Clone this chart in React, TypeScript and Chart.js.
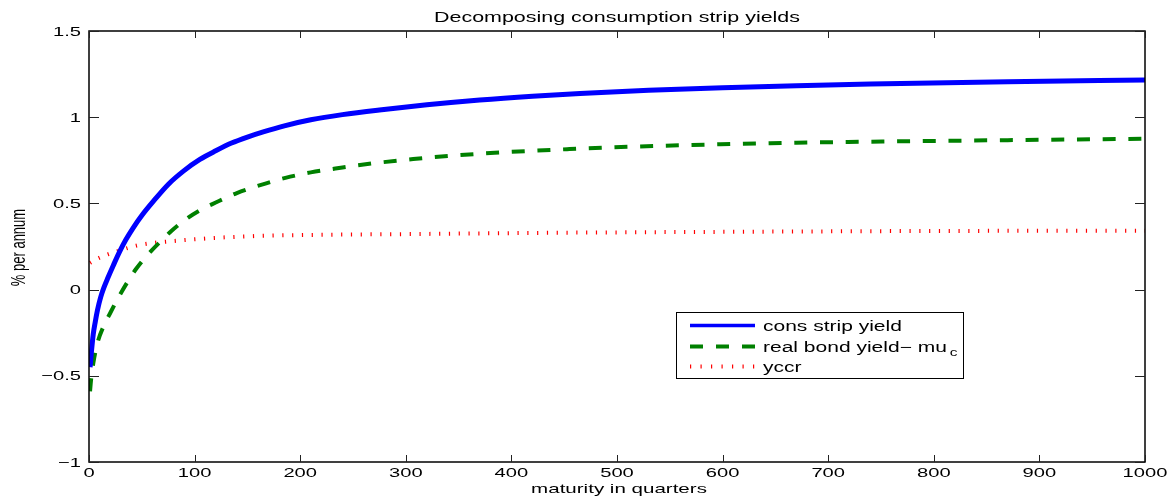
import React, { useEffect, useRef } from "react";
import { Chart, registerables } from "chart.js";

Chart.register(...registerables);

// ---- data ----
const consMaturity = [1, 2, 4, 6, 8, 11, 14, 18, 23, 29, 35, 42, 50, 62, 75, 90, 105, 120, 135, 150, 165, 185, 210, 240, 275, 320, 370, 420, 465, 530, 600, 670, 740, 870, 1000];
const consStripYield = [-0.45, -0.38, -0.26, -0.185, -0.12, -0.045, 0.01, 0.07, 0.14, 0.22, 0.29, 0.36, 0.43, 0.52, 0.61, 0.69, 0.755, 0.805, 0.85, 0.885, 0.915, 0.95, 0.985, 1.015, 1.042, 1.072, 1.1, 1.122, 1.138, 1.156, 1.171, 1.183, 1.193, 1.206, 1.216];

const realMaturity = [1, 2, 4, 8, 14, 20, 27, 36, 44, 51, 59, 67, 78, 91, 105, 120, 140, 167, 186, 210, 240, 270, 307, 340, 380, 455, 520, 598, 670, 740, 870, 1000];
const realBondYieldMinusMu = [-0.59, -0.52, -0.43, -0.31, -0.21, -0.137, -0.055, 0.04, 0.115, 0.17, 0.225, 0.275, 0.34, 0.405, 0.46, 0.505, 0.56, 0.615, 0.648, 0.68, 0.708, 0.733, 0.757, 0.775, 0.792, 0.815, 0.83, 0.843, 0.852, 0.858, 0.867, 0.875];

const yccrMaturity = [1, 5, 10, 18, 28, 45, 60, 75, 90, 120, 150, 185, 240, 300, 450, 600, 800, 1000];
const yccr = [0.155, 0.17, 0.185, 0.205, 0.225, 0.255, 0.27, 0.279, 0.287, 0.3, 0.309, 0.315, 0.319, 0.322, 0.33, 0.335, 0.34, 0.342];

const xTicks = [0, 100, 200, 300, 400, 500, 600, 700, 800, 900, 1000];
const yTicks = [-1, -0.5, 0, 0.5, 1, 1.5];

const seriesLabels = ["cons strip yield", "real bond yield\u2212 mu", "yccr"];
const legendSubscript = "c";
const chartTitle = "Decomposing consumption strip yields";
const xTitle = "maturity in quarters";
const yTitle = "% per annum";

const FONT = '"Liberation Sans", Arial, Helvetica, sans-serif';
const BLUE = "#0000ff";
const GREEN = "#008000";
const RED = "#ff0000";

function fmt(v: number): string {
  return String(v).replace("-", "\u2212");
}

function stretchedText(
  ctx: CanvasRenderingContext2D,
  text: string,
  x: number,
  y: number,
  size: number,
  sx: number,
  align: CanvasTextAlign,
  baseline: CanvasTextBaseline
) {
  ctx.save();
  ctx.font = `${size}px ${FONT}`;
  ctx.textAlign = align;
  ctx.textBaseline = baseline;
  ctx.fillStyle = "#000";
  ctx.translate(x, y);
  ctx.scale(sx, 1);
  ctx.fillText(text, 0, 0);
  ctx.restore();
}

const decorPlugin = {
  id: "decor",
  afterDatasetsDraw(chart: any) {
    const { ctx, chartArea: a, scales } = chart;
    const xs = scales.x;
    const ys = scales.y;
    ctx.save();

    // frame
    ctx.strokeStyle = "#000";
    ctx.lineWidth = 1.5;
    ctx.strokeRect(a.left, a.top, a.right - a.left, a.bottom - a.top);

    // inward ticks
    ctx.lineWidth = 1;
    ctx.strokeStyle = "#222";
    ctx.beginPath();
    xTicks.forEach((v) => {
      const px = Math.round(xs.getPixelForValue(v)) + 0.5;
      ctx.moveTo(px, a.bottom);
      ctx.lineTo(px, a.bottom - 7);
      ctx.moveTo(px, a.top);
      ctx.lineTo(px, a.top + 7);
    });
    yTicks.forEach((v) => {
      const py = Math.round(ys.getPixelForValue(v)) + 0.5;
      ctx.moveTo(a.left, py);
      ctx.lineTo(a.left + 10, py);
      ctx.moveTo(a.right, py);
      ctx.lineTo(a.right - 10, py);
    });
    ctx.stroke();

    // tick labels
    xTicks.forEach((v) => {
      stretchedText(ctx, fmt(v), xs.getPixelForValue(v), a.bottom + 15, 13, 1.55, "center", "alphabetic");
    });
    yTicks.forEach((v) => {
      stretchedText(ctx, fmt(v), a.left - 8, ys.getPixelForValue(v) + 1, 13, 1.55, "right", "middle");
    });

    // titles
    const cx = (a.left + a.right) / 2;
    stretchedText(ctx, chartTitle, cx, a.top - 9, 15, 1.43, "center", "alphabetic");
    stretchedText(ctx, xTitle, cx + 2, a.bottom + 31, 13, 1.58, "center", "alphabetic");
    ctx.save();
    ctx.translate(25, (a.top + a.bottom) / 2 + 1);
    ctx.scale(1.55, 1);
    ctx.rotate(-Math.PI / 2);
    ctx.font = `13px ${FONT}`;
    ctx.textAlign = "center";
    ctx.textBaseline = "alphabetic";
    ctx.fillStyle = "#000";
    ctx.fillText(yTitle, 0, 0);
    ctx.restore();

    // legend box
    const lx = 676, ly = 312, lw = 287, lh = 66;
    ctx.fillStyle = "#fff";
    ctx.fillRect(lx, ly, lw, lh);
    ctx.strokeStyle = "#000";
    ctx.lineWidth = 1;
    ctx.strokeRect(lx + 0.5, ly + 0.5, lw, lh);

    const rows = [325.5, 346.5, 366.5];
    const styles = [
      { color: BLUE, width: 3.5, dash: [] as number[] },
      { color: GREEN, width: 4, dash: [13, 13] },
      { color: RED, width: 4, dash: [1.2, 9.3] },
    ];
    rows.forEach((ry, i) => {
      const s = styles[i];
      ctx.save();
      ctx.strokeStyle = s.color;
      ctx.lineWidth = s.width;
      ctx.lineCap = "butt";
      ctx.setLineDash(s.dash);
      ctx.beginPath();
      ctx.moveTo(690, ry);
      ctx.lineTo(755, ry);
      ctx.stroke();
      ctx.restore();
      stretchedText(ctx, seriesLabels[i], 763, ry + 5.5, 14, 1.5, "left", "alphabetic");
    });
    ctx.font = `14px ${FONT}`;
    const w = ctx.measureText(seriesLabels[1]).width * 1.5;
    stretchedText(ctx, legendSubscript, 763 + w + 3, rows[1] + 9, 11, 1.4, "left", "alphabetic");

    ctx.restore();
  },
};

function toPoints(xs: number[], ys: number[]) {
  return xs.map((x, i) => ({ x, y: ys[i] }));
}

export default function App() {
  const canvasRef = useRef<HTMLCanvasElement | null>(null);

  useEffect(() => {
    const canvas = canvasRef.current;
    if (!canvas) return;
    const chart = new Chart(canvas, {
      type: "line",
      data: {
        datasets: [
          {
            label: seriesLabels[0],
            data: toPoints(consMaturity, consStripYield),
            borderColor: BLUE,
            borderWidth: 5,
            pointRadius: 0,
            fill: false,
            cubicInterpolationMode: "monotone",
            borderCapStyle: "butt",
          },
          {
            label: seriesLabels[1] + legendSubscript,
            data: toPoints(realMaturity, realBondYieldMinusMu),
            borderColor: GREEN,
            borderWidth: 4,
            borderDash: [13, 12.7],
            pointRadius: 0,
            fill: false,
            cubicInterpolationMode: "monotone",
            borderCapStyle: "butt",
          },
          {
            label: seriesLabels[2],
            data: toPoints(yccrMaturity, yccr),
            borderColor: RED,
            borderWidth: 4,
            borderDash: [1.2, 8.6],
            pointRadius: 0,
            fill: false,
            cubicInterpolationMode: "monotone",
            borderCapStyle: "butt",
          },
        ],
      },
      options: {
        responsive: false,
        animation: false,
        devicePixelRatio: 1,
        layout: { padding: { left: 89, right: 30, top: 31, bottom: 36 } },
        scales: {
          x: { type: "linear", min: 0, max: 1000, display: false },
          y: { type: "linear", min: -1, max: 1.5, display: false },
        },
        plugins: {
          legend: { display: false },
          title: { display: false },
          tooltip: { enabled: false },
        },
      },
      plugins: [decorPlugin],
    });
    return () => chart.destroy();
  }, []);

  return (
    <div style={{ position: "absolute", left: 0, top: 0, width: 1175, height: 498, background: "#fff" }}>
      <canvas ref={canvasRef} width={1175} height={498} style={{ display: "block" }} />
    </div>
  );
}
